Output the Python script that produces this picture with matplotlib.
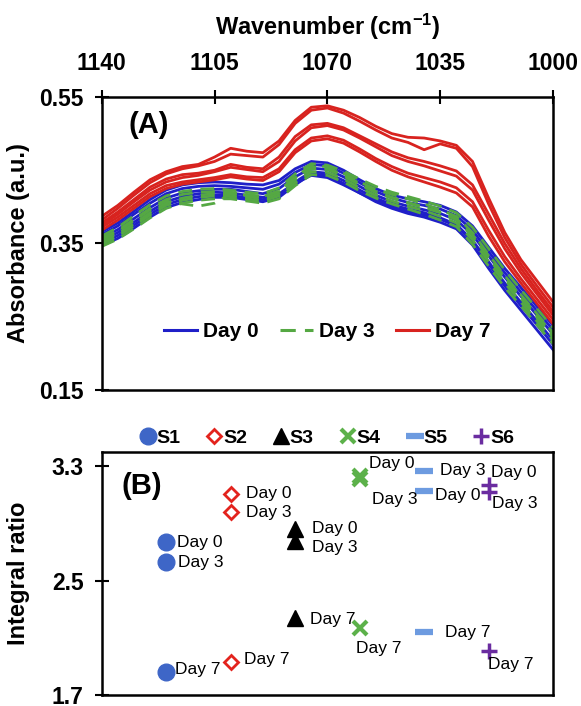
import matplotlib
matplotlib.use('Agg')
import matplotlib.pyplot as plt
from matplotlib.lines import Line2D

plt.rcParams['font.family'] = ['Liberation Sans', 'DejaVu Sans']
plt.rcParams['mathtext.fontset'] = 'custom'
plt.rcParams['mathtext.bf'] = 'Liberation Sans:bold'
plt.rcParams['mathtext.rm'] = 'Liberation Sans:bold'
plt.rcParams['mathtext.default'] = 'bf'

# ---- panel A: spectra, 1140 -> 1000 cm-1 every 5 cm-1 ----
wavenumber = list(range(1140, 995, -5))

day0 = [
    [.366, .378, .394, .410, .423, .430, .433, .434, .433, .431, .430, .436, .452, .462, .460,
     .450, .437, .425, .416, .411, .407, .402, .393, .374, .345, .316, .290, .264, .238],
    [.362, .374, .390, .405, .418, .425, .428, .429, .428, .426, .424, .431, .447, .458, .456,
     .446, .433, .421, .412, .406, .402, .397, .388, .368, .339, .310, .284, .258, .232],
    [.358, .369, .384, .399, .412, .419, .422, .424, .424, .421, .418, .425, .441, .453, .451,
     .441, .428, .416, .407, .401, .396, .391, .382, .362, .333, .304, .278, .252, .226],
    [.354, .365, .379, .394, .407, .414, .418, .420, .419, .416, .413, .418, .432, .443, .440,
     .430, .419, .409, .400, .394, .389, .383, .374, .354, .325, .296, .270, .244, .218],
    [.350, .361, .375, .390, .403, .410, .414, .416, .416, .412, .410, .416, .434, .448, .446,
     .436, .423, .412, .403, .397, .392, .385, .376, .354, .322, .292, .265, .239, .212],
    [.347, .357, .371, .386, .399, .406, .410, .413, .413, .410, .407, .413, .430, .445, .443,
     .432, .419, .407, .398, .391, .386, .379, .370, .348, .316, .286, .259, .232, .205],
]

day3 = [
    [.360, .372, .388, .403, .415, .421, .424, .425, .423, .420, .418, .426, .445, .459, .457,
     .449, .438, .428, .420, .414, .408, .401, .392, .372, .343, .314, .287, .261, .235],
    [.355, .366, .381, .396, .408, .404, .401, .405, .418, .416, .414, .422, .441, .456, .455,
     .446, .434, .424, .417, .411, .404, .396, .387, .365, .335, .306, .280, .254, .228],
    [.352, .363, .377, .392, .405, .412, .416, .418, .417, .414, .411, .418, .437, .452, .451,
     .442, .430, .420, .412, .405, .399, .392, .382, .360, .330, .301, .275, .249, .222],
    [.349, .360, .374, .389, .402, .409, .413, .415, .414, .411, .408, .415, .433, .448, .447,
     .438, .426, .416, .408, .401, .395, .387, .378, .355, .325, .296, .270, .244, .218],
    [.346, .356, .370, .385, .398, .405, .409, .411, .411, .408, .405, .411, .429, .444, .443,
     .434, .422, .412, .404, .397, .390, .382, .373, .349, .319, .290, .265, .239, .213],
    [.357, .368, .383, .398, .410, .417, .420, .421, .420, .417, .414, .421, .440, .455, .453,
     .444, .432, .421, .413, .406, .400, .393, .384, .362, .333, .304, .278, .252, .226],
]

day7 = [
    [.387, .402, .420, .437, .448, .455, .458, .468, .480, .476, .474, .490, .518, .536, .538,
     .532, .522, .510, .500, .495, .494, .490, .484, .462, .412, .365, .328, .299, .270],
    [.382, .398, .416, .433, .445, .452, .456, .462, .472, .470, .468, .485, .514, .532, .535,
     .528, .517, .505, .494, .488, .478, .486, .480, .455, .404, .358, .322, .292, .263],
    [.378, .393, .410, .427, .438, .444, .446, .450, .458, .454, .452, .468, .496, .512, .514,
     .508, .497, .486, .475, .467, .462, .456, .449, .430, .390, .350, .316, .286, .257],
    [.375, .390, .407, .423, .434, .440, .443, .448, .454, .451, .448, .462, .490, .508, .511,
     .505, .494, .482, .470, .462, .456, .449, .442, .423, .382, .343, .310, .281, .252],
    [.372, .386, .402, .418, .429, .434, .437, .440, .444, .441, .440, .452, .478, .494, .497,
     .491, .479, .466, .455, .446, .440, .434, .426, .407, .368, .332, .302, .274, .246],
    [.368, .382, .398, .414, .425, .431, .434, .437, .441, .438, .436, .448, .474, .490, .493,
     .487, .475, .462, .450, .441, .434, .427, .419, .400, .360, .325, .296, .268, .240],
]

x_ticks = [1140, 1105, 1070, 1035, 1000]
a_yticks = [0.15, 0.35, 0.55]

# ---- panel B: integral ratios ----
samples = ['S1', 'S2', 'S3', 'S4', 'S5', 'S6']
days = ['Day 0', 'Day 3', 'Day 7']
ratio = [
    [2.77, 2.63, 1.86],
    [3.11, 2.98, 1.93],
    [2.86, 2.78, 2.24],
    [3.23, 3.21, 2.17],
    [3.13, 3.27, 2.14],
    [3.17, 3.12, 2.01],
]
b_yticks = [1.7, 2.5, 3.3]

# label offsets (pixels) for each sample/day
label_off = [
    [(11, 0), (12, 0), (9, 3)],
    [(15, 0), (15, 0), (13, 3)],
    [(17, 1), (17, -7), (15, -2)],
    [(9, 13), (12, -20), (-4, -21)],
    [(11, -5), (16, 0), (21, 0)],
    [(2, 12), (3, -11), (-1, -14)],
]

blue, green, red = '#1f1fc8', '#55a843', '#d8231f'
mstyle = [
    dict(marker='o', color='#3e66c7', ms=12, mfc='#3e66c7'),
    dict(marker='D', color='#e3231d', ms=7.5, mfc='white', mew=2),
    dict(marker='^', color='black', ms=11),
    dict(marker='x', color='#5cb14a', ms=10, mew=3),
    dict(marker='_', color='#6d9be0', ms=13, mew=4.5),
    dict(marker='+', color='#6a2ca0', ms=11, mew=2.5),
]

fig = plt.figure(figsize=(5.81, 7.06), dpi=100)
axA = fig.add_axes([0.175, 0.4476, 0.777, 0.415])
axB = fig.add_axes([0.175, 0.0156, 0.777, 0.344])

for c in day0:
    axA.plot(wavenumber, c, color=blue, lw=2.0)
for c in day3:
    axA.plot(wavenumber, c, color=green, lw=2.0, dashes=(5, 3))
for c in day7:
    axA.plot(wavenumber, c, color=red, lw=2.0)

axA.set_xlim(1140, 1000)
axA.set_ylim(0.15, 0.55)
axA.set_xticks(x_ticks)
axA.set_yticks(a_yticks)
axA.set_yticklabels([f'{v:.2f}' for v in a_yticks])
axA.xaxis.tick_top()
axA.xaxis.set_label_position('top')
axA.tick_params(axis='x', direction='inout', length=10, width=1.5, pad=11, labelsize=16.5)
axA.tick_params(axis='y', direction='inout', length=10, width=1.5, pad=8, labelsize=16.5)
for lab in axA.get_xticklabels() + axA.get_yticklabels():
    lab.set_fontweight('bold')
axA.set_xlabel('Wavenumber (cm$^{-1}$)', fontsize=17, fontweight='bold', labelpad=12)
axA.set_ylabel('Absorbance (a.u.)', fontsize=17, fontweight='bold')
axA.yaxis.set_label_coords(-0.158, 0.5)
for s in axA.spines.values():
    s.set_linewidth(1.8)
axA.text(0.105, 0.905, '(A)', transform=axA.transAxes, fontsize=21, fontweight='bold',
         ha='center', va='center')
handlesA = [Line2D([], [], color=blue, lw=2.2),
            Line2D([], [], color=green, lw=2.2, dashes=(5, 3)),
            Line2D([], [], color=red, lw=2.2)]
axA.legend(handlesA, days, loc='center', bbox_to_anchor=(0.5, 0.2), ncol=3, frameon=False,
           prop={'weight': 'bold', 'size': 15}, handlelength=1.6, handletextpad=0.3,
           columnspacing=1.0)

handlesB = []
for i, s in enumerate(samples):
    st = mstyle[i]
    h, = axB.plot([i + 1] * len(days), ratio[i], ls='none', **st)
    handlesB.append(h)
    for j, d in enumerate(days):
        axB.annotate(d, (i + 1, ratio[i][j]), xytext=label_off[i][j], textcoords='offset pixels',
                     ha='left', va='center', fontsize=12.5)

axB.set_xlim(0, 7)
axB.set_ylim(1.7, 3.4)
axB.set_xticks([])
axB.set_yticks(b_yticks)
axB.set_yticklabels([f'{v:.1f}' for v in b_yticks])
axB.tick_params(axis='y', direction='inout', length=10, width=1.5, pad=8, labelsize=16.5)
for lab in axB.get_yticklabels():
    lab.set_fontweight('bold')
axB.set_ylabel('Integral ratio', fontsize=17, fontweight='bold')
axB.yaxis.set_label_coords(-0.158, 0.5)
for s in axB.spines.values():
    s.set_linewidth(1.8)
axB.text(0.09, 0.86, '(B)', transform=axB.transAxes, fontsize=21, fontweight='bold',
         ha='center', va='center')
axB.legend(handlesB, samples, loc='lower center', bbox_to_anchor=(0.5, 0.98), ncol=6,
           frameon=False, prop={'weight': 'bold', 'size': 14}, handlelength=0.7,
           handletextpad=0.1, columnspacing=1.4, borderaxespad=0.1)

fig.savefig('out.png', dpi=100)
